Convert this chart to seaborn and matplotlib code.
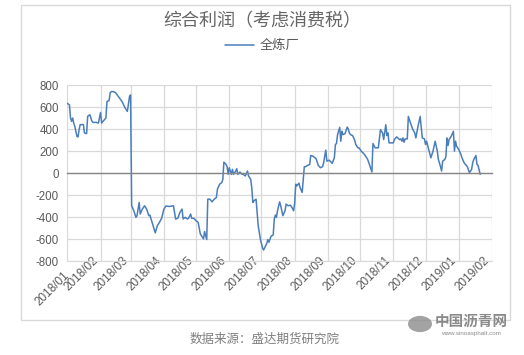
import pandas as pd
import numpy as np
import matplotlib
matplotlib.use("Agg")
import matplotlib.pyplot as plt
import matplotlib.dates as mdates
from matplotlib.patches import Rectangle, Circle
import seaborn as sns

sns.set_style("white")
plt.rcParams['font.family'] = ['Liberation Sans', 'Noto Sans CJK SC', 'DejaVu Sans']
plt.rcParams['axes.unicode_minus'] = False

# 全炼厂综合利润（考虑消费税），元/吨
dates = [
    "2018-01-01", "2018-01-03", "2018-01-04", "2018-01-05", "2018-01-06", "2018-01-07",
    "2018-01-08", "2018-01-10", "2018-01-11", "2018-01-12", "2018-01-13", "2018-01-16",
    "2018-01-17", "2018-01-19", "2018-01-20", "2018-01-22", "2018-01-24", "2018-01-25",
    "2018-01-28", "2018-01-30", "2018-02-01", "2018-02-02", "2018-02-04", "2018-02-06",
    "2018-02-07", "2018-02-09", "2018-02-10", "2018-02-11", "2018-02-13", "2018-02-15",
    "2018-02-18", "2018-02-21", "2018-02-24", "2018-02-26", "2018-02-28", "2018-03-01",
    "2018-03-02", "2018-03-04", "2018-03-06", "2018-03-07", "2018-03-09", "2018-03-10",
    "2018-03-12", "2018-03-14", "2018-03-16", "2018-03-18", "2018-03-19", "2018-03-22",
    "2018-03-24", "2018-03-26", "2018-03-28", "2018-03-30", "2018-04-01", "2018-04-03",
    "2018-04-06", "2018-04-10", "2018-04-12", "2018-04-14", "2018-04-16", "2018-04-18",
    "2018-04-19", "2018-04-21", "2018-04-23", "2018-04-24", "2018-04-26", "2018-04-27",
    "2018-04-29", "2018-05-01", "2018-05-03", "2018-05-05", "2018-05-07", "2018-05-08",
    "2018-05-09", "2018-05-11", "2018-05-12", "2018-05-14", "2018-05-16", "2018-05-18",
    "2018-05-20", "2018-05-21", "2018-05-23", "2018-05-25", "2018-05-26", "2018-05-27",
    "2018-05-29", "2018-05-30", "2018-05-31", "2018-06-01", "2018-06-03", "2018-06-04",
    "2018-06-05", "2018-06-07", "2018-06-08", "2018-06-09", "2018-06-11", "2018-06-13",
    "2018-06-14", "2018-06-16", "2018-06-18", "2018-06-19", "2018-06-21", "2018-06-22",
    "2018-06-23", "2018-06-24", "2018-06-26", "2018-06-27", "2018-06-28", "2018-06-30",
    "2018-07-02", "2018-07-03", "2018-07-06", "2018-07-07", "2018-07-08", "2018-07-10",
    "2018-07-12", "2018-07-13", "2018-07-14", "2018-07-15", "2018-07-16", "2018-07-18",
    "2018-07-19", "2018-07-21", "2018-07-23", "2018-07-24", "2018-07-26", "2018-07-28",
    "2018-07-30", "2018-07-31", "2018-08-01", "2018-08-02", "2018-08-03", "2018-08-05",
    "2018-08-06", "2018-08-08", "2018-08-10", "2018-08-11", "2018-08-13", "2018-08-15",
    "2018-08-16", "2018-08-18", "2018-08-20", "2018-08-21", "2018-08-23", "2018-08-25",
    "2018-08-27", "2018-08-28", "2018-08-30", "2018-08-31", "2018-09-02", "2018-09-04",
    "2018-09-05", "2018-09-07", "2018-09-08", "2018-09-09", "2018-09-10", "2018-09-12",
    "2018-09-13", "2018-09-14", "2018-09-15", "2018-09-17", "2018-09-19", "2018-09-20",
    "2018-09-21", "2018-09-22", "2018-09-24", "2018-09-26", "2018-09-27", "2018-09-29",
    "2018-09-30", "2018-10-02", "2018-10-05", "2018-10-08", "2018-10-10", "2018-10-12",
    "2018-10-13", "2018-10-15", "2018-10-17", "2018-10-18", "2018-10-20", "2018-10-22",
    "2018-10-23", "2018-10-25", "2018-10-26", "2018-10-27", "2018-10-28", "2018-10-30",
    "2018-11-01", "2018-11-02", "2018-11-04", "2018-11-05", "2018-11-07", "2018-11-08",
    "2018-11-09", "2018-11-10", "2018-11-11", "2018-11-12", "2018-11-14", "2018-11-15",
    "2018-11-17", "2018-11-19", "2018-11-21", "2018-11-22", "2018-11-24", "2018-11-26",
    "2018-11-28", "2018-11-30", "2018-12-01", "2018-12-02", "2018-12-04", "2018-12-06",
    "2018-12-08", "2018-12-10", "2018-12-12", "2018-12-13", "2018-12-15", "2018-12-16",
    "2018-12-17", "2018-12-19", "2018-12-20", "2018-12-21", "2018-12-22", "2018-12-23",
    "2018-12-25", "2018-12-27", "2018-12-28", "2018-12-29", "2018-12-30", "2019-01-01",
    "2019-01-03", "2019-01-04", "2019-01-06", "2019-01-08", "2019-01-09", "2019-01-11",
    "2019-01-13", "2019-01-14", "2019-01-15", "2019-01-17", "2019-01-18", "2019-01-19",
    "2019-01-21",
]
profit = [
    633, 620, 500, 470, 500, 453,
    424, 333, 328, 394, 440, 440,
    364, 358, 515, 530, 470, 460,
    460, 454, 550, 454, 478, 500,
    650, 659, 730, 740, 740, 730,
    690, 650, 590, 560, 695, 710,
    -298, -343, -403, -388, -268, -373,
    -328, -298, -328, -388, -382, -478,
    -544, -478, -448, -410, -330, -300,
    -304, -298, -418, -412, -358, -328,
    -418, -403, -418, -412, -373, -412,
    -412, -433, -448, -553, -583, -599,
    -532, -605, -238, -238, -262, -238,
    -223, -147, -102, -87, -60, 99,
    78, 57, -12, 48, -12, 33,
    -12, 18, 39, -12, 9, -12,
    -12, -27, 18, -27, -57, -132,
    -268, -253, -238, -358, -478, -600,
    -680, -700, -640, -605, -629, -575,
    -563, -418, -382, -403, -343, -262,
    -298, -388, -343, -283, -298, -292,
    -322, -343, -274, -102, -117, -93,
    -132, -177, 57, 57, 69, 78,
    159, 153, 138, 129, 69, 48,
    57, 93, 208, 108, 117, 99,
    87, 138, 259, 268, 349, 415,
    289, 379, 349, 358, 418, 400,
    364, 349, 340, 298, 259, 229,
    229, 199, 170, 125, 69, 9,
    268, 229, 229, 229, 394, 364,
    304, 439, 340, 364, 274, 274,
    274, 304, 328, 319, 304, 310,
    289, 319, 280, 310, 310, 514,
    454, 400, 364, 319, 424, 514,
    319, 310, 259, 289, 214, 138,
    199, 289, 199, 123, 57, 18,
    108, 123, 147, 319, 250, 304,
    334, 379, 199, 289, 244, 214,
    169, 138, 93, 69, 57, 3,
    33, 93, 123, 159, 78, 69,
    -12,
]
series_name = "全炼厂"
title = "综合利润（考虑消费税）"
source = "数据来源：盛达期货研究院"

df = pd.DataFrame({"date": pd.to_datetime(dates), "value": profit, "series": series_name})

text_color = "#595959"
grid_color = "#d9d9d9"
line_color = "#4a7ebb"

fig = plt.figure(figsize=(5.24, 3.55), dpi=100)
ax = fig.add_axes([67.3 / 524, 1 - 261 / 355, (492 - 67.3) / 524, (261 - 85) / 355])

sns.lineplot(data=df, x="date", y="value", hue="series", palette=[line_color],
             linewidth=1.1, ax=ax, legend=True)

ax.set_xlim(pd.Timestamp("2018-01-01"), pd.Timestamp("2019-02-01"))
ax.set_ylim(-800, 800)
ax.set_yticks(np.arange(-800, 801, 200))
ax.xaxis.set_major_locator(mdates.MonthLocator())
ax.grid(True, color=grid_color, linewidth=0.9)
ax.set_xlabel("")
ax.set_ylabel("")

# x axis line sits at zero, labels stay at the bottom
ax.spines["bottom"].set_position(("data", 0))
ax.spines["bottom"].set_color("#868686")
ax.spines["bottom"].set_linewidth(1.0)
ax.tick_params(axis="x", which="major", direction="out", length=3, color="#868686",
               labelbottom=False, width=1.0)
for s in ["left", "right", "top"]:
    ax.spines[s].set_visible(False)
ax.tick_params(axis="y", length=0, pad=6, labelsize=8.3, labelcolor=text_color)

sec = ax.secondary_xaxis(0)
sec.xaxis.set_major_locator(mdates.MonthLocator())
sec.xaxis.set_major_formatter(mdates.DateFormatter("%Y/%m"))
sec.spines["bottom"].set_color(grid_color)
sec.tick_params(length=0, pad=9, labelsize=8.5, labelcolor=text_color)
for lab in sec.get_xticklabels():
    lab.set_rotation(45)
    lab.set_ha("right")
    lab.set_va("center")
    lab.set_rotation_mode("anchor")

handles, labels = ax.get_legend_handles_labels()
ax.legend(handles, labels, loc="center", bbox_to_anchor=(0.5, 1 - 46 / 355),
          bbox_transform=fig.transFigure, frameon=False, fontsize=9.5,
          labelcolor=text_color, handlelength=2.2, handletextpad=0.4)

fig.text(262 / 524, 1 - 22 / 355, title, ha="center", va="center",
         fontsize=13, color="#666666")

fig.patches.append(Rectangle((20.5 / 524, 1 - 320 / 355), 489 / 524, 315 / 355,
                             transform=fig.transFigure, fill=False,
                             edgecolor=grid_color, linewidth=1.0))

fig.text(265 / 524, 1 - 340 / 355, source, ha="center", va="center",
         fontsize=9, color="#7f7f7f", style="italic")

# watermark
fig.patches.append(Circle((420 / 524, 1 - 324 / 355), 12 / 524, transform=fig.transFigure,
                          facecolor="#8c8c8c", edgecolor="none", alpha=0.8))
fig.text(471 / 524, 1 - 322 / 355, "中国沥青网", ha="center", va="center",
         fontsize=10.5, color="#777777", fontweight="bold", alpha=0.85)
fig.text(471 / 524, 1 - 334 / 355, "www.sinoasphalt.com", ha="center", va="center",
         fontsize=4.5, color="#777777", alpha=0.85)

fig.savefig("out.png", dpi=100)
